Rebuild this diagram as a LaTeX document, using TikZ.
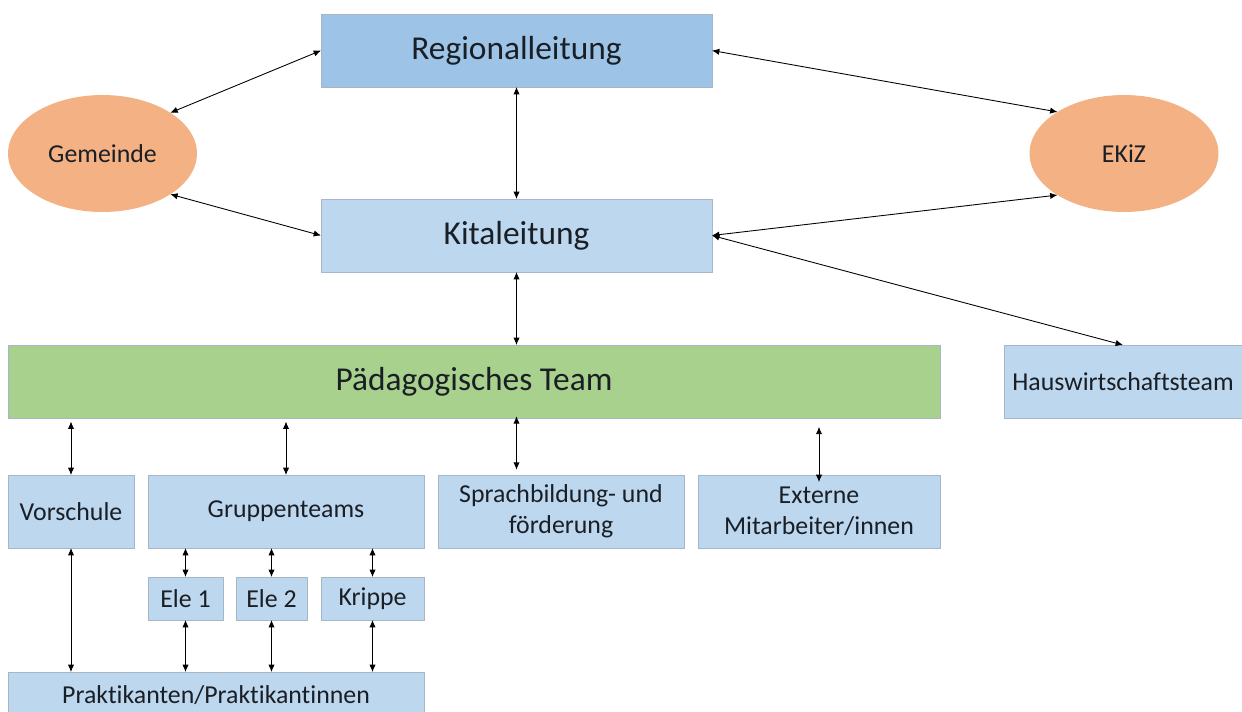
\documentclass[tikz,border=0pt]{standalone}
\usepackage{fontspec}
\setmainfont{Carlito}[Ligatures=NoCommon]
\usepackage{tikz}
\usetikzlibrary{arrows.meta,positioning,shapes.geometric}

\definecolor{regblue}{HTML}{9DC3E6}
\definecolor{lightblue}{HTML}{BDD7EE}
\definecolor{teamgreen}{HTML}{A9D18E}
\definecolor{orgorange}{HTML}{F4B183}
\definecolor{boxline}{HTML}{A7B6C4}
\definecolor{inktext}{HTML}{1A1F26}

\begin{document}
\begin{tikzpicture}[x=0.02cm, y=-0.02cm,
		box/.style={rectangle, fill=lightblue, draw=boxline, line width=0.4pt, inner sep=0pt, outer sep=0pt, text=inktext, font=\fontsize{14.7}{17.5}\selectfont, align=center},
		bigbox/.style={box, minimum width=7.82cm, minimum height=1.46cm, font=\fontsize{19}{23}\selectfont},
		rowbox/.style={box, minimum height=1.46cm},
		smallbox/.style={box, minimum height=0.86cm},
		partner/.style={ellipse, fill=orgorange, draw=none, inner sep=0pt, outer sep=0pt, minimum width=3.78cm, minimum height=2.34cm, text=inktext, font=\fontsize{14.7}{17.5}\selectfont},
		link/.style={{Latex[length=4.2pt,width=3.6pt]}-{Latex[length=4.2pt,width=3.6pt]}, line width=0.5pt}]
		\useasboundingbox (0,0) rectangle (1242,711);
		\node[bigbox, fill=regblue] (reg) at (516.5,50.5) {Regionalleitung};
		\node[bigbox] (kita) at (516.5,235.5) {Kitaleitung};
		\node[partner] (gem) at (102.5,153.5) {Gemeinde};
		\node[partner] (ekiz) at (1124,153.5) {EKiZ};
		\node[bigbox, fill=teamgreen, minimum width=18.64cm] (paed) at (474,381.5) {Pädagogisches Team};
		\node[rowbox, minimum width=4.76cm] (haus) at (1123,381.5) {Hauswirtschaftsteam};
		\node[rowbox, minimum width=2.52cm] (vor) at (71,511.5) {Vorschule};
		\node[rowbox, minimum width=5.52cm] (grp) at (286,511.5) {Gruppenteams};
		\node[rowbox, minimum width=4.92cm] (spr) at (561,511.5) {Sprachbildung- und\\förderung};
		\node[rowbox, minimum width=4.84cm] (ext) at (819,511.5) {Externe\\Mitarbeiter/innen};
		\node[smallbox, minimum width=1.5cm] (ele1) at (185.5,598.5) {Ele 1};
		\node[smallbox, minimum width=1.42cm] (ele2) at (271.5,598.5) {Ele 2};
		\node[smallbox, minimum width=2.06cm] (kri) at (372.5,598.5) {Krippe};
		\node[box, minimum width=8.32cm, minimum height=0.92cm] (prak) at (216,695) {Praktikanten/Praktikantinnen};

		\draw[link] (reg.west) -- (gem.31);
		\draw[link] (gem.-31) -- (kita.west);
		\draw[link] (reg.east) -- (ekiz.148);
		\draw[link] (kita.east) -- (ekiz.212);
		\draw[link] (kita.east) -- (haus.north);
		\draw[link] (reg.south) -- (kita.north);
		\draw[link] (kita.south) -- (kita.south |- paed.north);
		\draw[link] ([yshift=-2pt]paed.south -| vor.north) -- (vor.north);
		\draw[link] ([yshift=-2pt]paed.south -| grp.north) -- (grp.north);
		\draw[link] ([yshift=1pt]paed.south -| kita.south) -- ([yshift=3pt]spr.north -| kita.south);
		\draw[link] ([yshift=-5pt]paed.south -| ext.north) -- ([yshift=-4pt]ext.north);
		\draw[link] (vor.south) -- (vor.south |- prak.north);
		\foreach \grp in {ele1,ele2,kri}{
			\draw[link] (\grp.north |- grp.south) -- (\grp.north);
			\draw[link] (\grp.south) -- (\grp.south |- prak.north);
		}
	\end{tikzpicture}
\end{document}
